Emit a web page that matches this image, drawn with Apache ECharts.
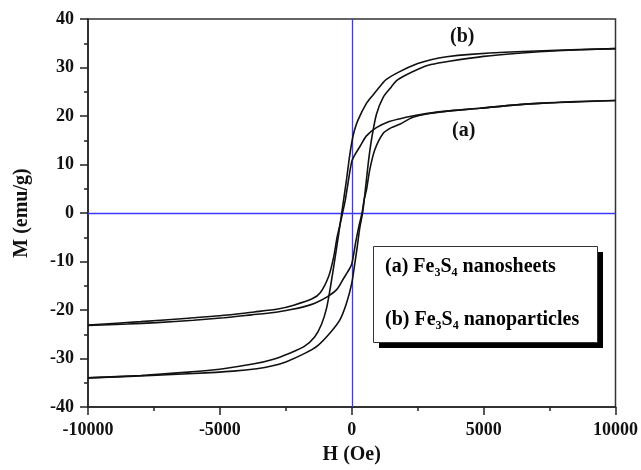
<!DOCTYPE html>
<html>
<head>
<meta charset="utf-8">
<script src="https://cdn.jsdelivr.net/npm/echarts@6/dist/echarts.min.js"></script>
<style>html,body{margin:0;padding:0;background:#fff}#c{width:641px;height:470px}</style>
</head>
<body>
<div id="c"></div>
<script>
// Field H (Oe) and magnetization M (emu/g)
var bDescH = [10000, 8000, 6000, 4500, 3600, 3000, 2500, 1800, 1300, 1100, 800, 556, 240, 100, 0, -100, -200, -300, -380, -500, -640, -800, -950, -1150, -1400, -1800, -2400, -3000, -3700, -5000, -6200, -8000, -10000];
var bDescM = [33.9, 33.6, 33.2, 32.7, 32.2, 31.6, 30.8, 29.1, 27.5, 26.3, 24.3, 22.6, 19.2, 17.0, 14.5, 11.0, 6.8, 3.0, 0, -4.5, -9.5, -15.0, -19.5, -23.0, -25.5, -27.5, -29.0, -30.2, -31.1, -32.2, -32.8, -33.5, -34.0];
var bAscH = [-10000, -8000, -6000, -4500, -3600, -3000, -2500, -1800, -1300, -833, -455, -200, 0, 100, 200, 300, 410, 500, 620, 745, 934, 1187, 1500, 1700, 2000, 2576, 3000, 3700, 5000, 6200, 8000, 10000];
var bAscM = [-34.0, -33.6, -33.1, -32.6, -32.1, -31.5, -30.7, -29.0, -27.4, -24.8, -22.1, -18.6, -14.5, -11.0, -7.3, -3.2, 0, 4.0, 10.0, 15.0, 20.3, 23.8, 26.0, 27.3, 28.3, 29.8, 30.6, 31.3, 32.3, 32.9, 33.5, 33.9];
var aDescH = [10000, 8500, 7400, 6000, 4850, 3800, 2950, 2300, 1800, 1400, 934, 556, 300, 150, 0, -164, -250, -350, -450, -556, -682, -871, -1187, -1500, -2200, -2800, -3700, -5000, -6200, -8000, -10000];
var aDescM = [23.2, 22.9, 22.7, 22.2, 21.6, 21.1, 20.6, 20.0, 19.4, 18.8, 17.6, 15.9, 13.6, 12.3, 10.6, 5.4, 2.5, 0, -2.5, -5.0, -9.0, -13.0, -16.4, -17.7, -19.0, -19.8, -20.4, -21.2, -21.7, -22.4, -23.1];
var aAscH = [-10000, -8500, -7400, -6000, -4850, -3800, -2950, -2300, -1800, -1400, -934, -556, -300, -150, 0, 150, 280, 390, 480, 556, 682, 871, 1187, 1500, 1818, 2300, 2950, 3800, 4850, 6000, 7400, 8500, 10000];
var aAscM = [-23.2, -22.9, -22.6, -22.1, -21.6, -21.0, -20.5, -19.9, -19.3, -18.6, -17.3, -15.7, -13.4, -12.1, -10.5, -6.0, -2.5, 0, 3.0, 4.7, 8.9, 13.0, 16.4, 17.6, 18.3, 19.7, 20.5, 21.1, 21.6, 22.2, 22.7, 23.0, 23.2];
var xTicks = [-10000, -5000, 0, 5000, 10000];
var yTicks = [-40, -30, -20, -10, 0, 10, 20, 30, 40];

function pairs(h, m) { return h.map(function (v, i) { return [v, m[i]]; }); }

var serif = '"Liberation Serif", "Times New Roman", serif';
var chart = echarts.init(document.getElementById('c'));
function curve(name, h, m) {
  return { name: name, type: 'line', data: pairs(h, m), showSymbol: false, smooth: 0.25,
    lineStyle: { color: '#111', width: 1.6 }, silent: true, z: 3 };
}
var series = [
  curve('a-desc', aDescH, aDescM),
  curve('a-asc', aAscH, aAscM),
  curve('b-desc', bDescH, bDescM),
  curve('b-asc', bAscH, bAscM)
];
series[0].markLine = { silent: true, symbol: 'none', label: { show: false },
  lineStyle: { color: '#3a3aff', width: 1.3, type: 'solid' },
  data: [{ xAxis: 0 }, { yAxis: 0 }], z: 2 };

var sub = { fontSize: 12, fontWeight: 'bold', fontFamily: serif, color: '#111', padding: [12, 0, 0, 0] };
var main = { fontSize: 20, fontWeight: 'bold', fontFamily: serif, color: '#111' };
var lineS = { color: '#222', width: 1.5 };

chart.setOption({
  animation: false,
  backgroundColor: '#fff',
  grid: { left: 88, top: 19, right: 25, bottom: 63, show: true, borderColor: '#333', borderWidth: 1.5 },
  xAxis: {
    type: 'value', position: 'bottom', min: xTicks[0], max: xTicks[xTicks.length - 1], interval: 5000,
    name: 'H (Oe)', nameLocation: 'middle', nameGap: 38,
    nameTextStyle: { fontFamily: serif, fontWeight: 'bold', fontSize: 20, color: '#111' },
    axisLine: { show: true, onZero: false, lineStyle: lineS },
    axisTick: { show: true, inside: false, length: 8, lineStyle: lineS },
    minorTick: { show: true, splitNumber: 2, length: 4, lineStyle: lineS },
    splitLine: { show: false },
    axisLabel: { fontFamily: serif, fontWeight: 'bold', fontSize: 18, color: '#111', margin: 14,
      formatter: function (v) { return String(v); } }
  },
  yAxis: {
    type: 'value', position: 'left', min: yTicks[0], max: yTicks[yTicks.length - 1], interval: 10,
    name: 'M (emu/g)', nameLocation: 'middle', nameGap: 56, nameRotate: 90,
    nameTextStyle: { fontFamily: serif, fontWeight: 'bold', fontSize: 20, color: '#111' },
    axisLine: { show: true, onZero: false, lineStyle: lineS },
    axisTick: { show: true, inside: false, length: 8, lineStyle: lineS },
    minorTick: { show: true, splitNumber: 2, length: 4, lineStyle: lineS },
    splitLine: { show: false },
    axisLabel: { fontFamily: serif, fontWeight: 'bold', fontSize: 18, color: '#111', margin: 14,
      formatter: function (v) { return String(v); } }
  },
  series: series,
  graphic: [
    { type: 'rect', left: 379, top: 252, shape: { width: 224, height: 96 }, style: { fill: '#000' }, z: 10 },
    { type: 'rect', left: 373, top: 246, shape: { width: 224, height: 96 }, style: { fill: '#fff', stroke: '#333', lineWidth: 1 }, z: 11 },
    { type: 'text', left: 385, top: 257, z: 12, style: { text: '{m|(a) Fe}{s|3}{m|S}{s|4}{m| nanosheets}', rich: { m: main, s: sub } } },
    { type: 'text', left: 385, top: 310, z: 12, style: { text: '{m|(b) Fe}{s|3}{m|S}{s|4}{m| nanoparticles}', rich: { m: main, s: sub } } },
    { type: 'text', left: 452, top: 121, z: 12, style: { text: '(a)', font: 'bold 20px ' + serif, fill: '#111' } },
    { type: 'text', left: 450, top: 27, z: 12, style: { text: '(b)', font: 'bold 20px ' + serif, fill: '#111' } }
  ]
});
</script>
</body>
</html>
